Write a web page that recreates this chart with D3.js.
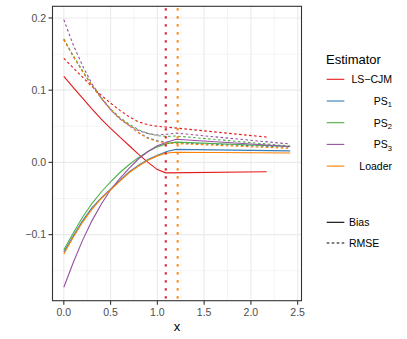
<!DOCTYPE html>
<html>
<head>
<meta charset="utf-8">
<script src="https://cdn.jsdelivr.net/npm/d3@7"></script>
<style>
body { margin: 0; background: #fff; }
text { font-family: "Liberation Sans", Arial, Helvetica, sans-serif; }
</style>
</head>
<body>
<svg width="407" height="339"></svg>
<script>

// grid of x values the estimators were evaluated on
var xs = [0, 0.1, 0.2, 0.3, 0.4, 0.5, 0.6, 0.7, 0.8, 0.9, 1.0, 1.1, 1.2, 2.42];
var xsRed = [0, 0.1, 0.2, 0.3, 0.4, 0.5, 0.6, 0.7, 0.8, 0.9, 1.0, 1.09, 2.17];

var estimators = ["LS-CJM", "PS1", "PS2", "PS3", "Loader"];
var colours = ["#E41A1C", "#377EB8", "#4DAF4A", "#984EA3", "#FF7F00"];

// bias
var bias_lscjm  = [0.119, 0.104, 0.089, 0.074, 0.060, 0.047, 0.035, 0.023, 0.011, 0.000, -0.010, -0.0145, -0.013];
var bias_ps1    = [-0.124, -0.102, -0.081, -0.063, -0.049, -0.037, -0.025, -0.013, -0.004, 0.004, 0.010, 0.015, 0.018, 0.016];
var bias_ps2    = [-0.121, -0.098, -0.076, -0.057, -0.041, -0.027, -0.014, -0.003, 0.007, 0.015, 0.0215, 0.026, 0.028, 0.022];
var bias_ps3    = [-0.173, -0.139, -0.108, -0.081, -0.058, -0.038, -0.022, -0.008, 0.005, 0.015, 0.023, 0.028, 0.032, 0.022];
var bias_loader = [-0.127, -0.104, -0.083, -0.065, -0.050, -0.038, -0.026, -0.014, -0.005, 0.003, 0.009, 0.013, 0.014, 0.013];

// rmse
var rmse_lscjm  = [0.144, 0.131, 0.118, 0.105, 0.093, 0.082, 0.072, 0.063, 0.056, 0.052, 0.050, 0.049, 0.035];
var rmse_ps1    = [0.170, 0.147, 0.126, 0.106, 0.089, 0.073, 0.061, 0.051, 0.041, 0.034, 0.030, 0.028, 0.027, 0.021];
var rmse_ps2    = [0.171, 0.148, 0.127, 0.107, 0.090, 0.074, 0.062, 0.053, 0.045, 0.040, 0.037, 0.036, 0.0365, 0.0226];
var rmse_ps3    = [0.1976, 0.163, 0.134, 0.109, 0.089, 0.073, 0.060, 0.051, 0.044, 0.040, 0.038, 0.039, 0.0405, 0.0254];
var rmse_loader = [0.170, 0.147, 0.126, 0.106, 0.089, 0.073, 0.061, 0.051, 0.041, 0.033, 0.029, 0.027, 0.026, 0.0194];

// vertical reference lines (LS-CJM, Loader)
var vlines = [1.09, 1.217];
var vlineCols = ["#E41A1C", "#FF7F00"];

var xTicks = [0, 0.5, 1, 1.5, 2, 2.5];
var xTickLabels = ["0.0", "0.5", "1.0", "1.5", "2.0", "2.5"];
var yTicks = [-0.1, 0, 0.1, 0.2];
var yTickLabels = ["\u22120.1", "0.0", "0.1", "0.2"];

var svg = d3.select("svg");
var panel = {left: 52.5, right: 301.5, top: 6.3, bottom: 300.7};
var dashed = "2.6,2.4";

// build the series table
var series = [];
var biasList = [bias_lscjm, bias_ps1, bias_ps2, bias_ps3, bias_loader];
var rmseList = [rmse_lscjm, rmse_ps1, rmse_ps2, rmse_ps3, rmse_loader];
estimators.forEach(function (e, i) {
    var xv = i == 0 ? xsRed : xs;
    series.push({est: e, col: colours[i], type: "Bias", pts: xv.map(function (x, j) { return [x, biasList[i][j]]; })});
    series.push({est: e, col: colours[i], type: "RMSE", pts: xv.map(function (x, j) { return [x, rmseList[i][j]]; })});
});

var allX = [], allY = [];
series.forEach(function (s) { s.pts.forEach(function (p) { allX.push(p[0]); allY.push(p[1]); }); });
var xExt = d3.extent(allX), yExt = d3.extent(allY);
var xPad = (xExt[1] - xExt[0]) * 0.05, yPad = (yExt[1] - yExt[0]) * 0.05;

var x = d3.scaleLinear().domain([xExt[0] - xPad, xExt[1] + xPad]).range([panel.left, panel.right]);
var y = d3.scaleLinear().domain([yExt[0] - yPad, yExt[1] + yPad]).range([panel.bottom, panel.top]);

//grid
var g = svg.append("g");
var xMinor = [0.25, 0.75, 1.25, 1.75, 2.25];
var yMinor = [-0.15, -0.05, 0.05, 0.15];
g.selectAll(".xminor").data(xMinor).enter().append("line")
    .attr("x1", x).attr("x2", x).attr("y1", panel.top).attr("y2", panel.bottom)
    .attr("stroke", "#EBEBEB").attr("stroke-width", 0.55);
g.selectAll(".yminor").data(yMinor).enter().append("line")
    .attr("y1", y).attr("y2", y).attr("x1", panel.left).attr("x2", panel.right)
    .attr("stroke", "#EBEBEB").attr("stroke-width", 0.55);
g.selectAll(".xmajor").data(xTicks).enter().append("line")
    .attr("x1", x).attr("x2", x).attr("y1", panel.top).attr("y2", panel.bottom)
    .attr("stroke", "#EBEBEB").attr("stroke-width", 1.1);
g.selectAll(".ymajor").data(yTicks).enter().append("line")
    .attr("y1", y).attr("y2", y).attr("x1", panel.left).attr("x2", panel.right)
    .attr("stroke", "#EBEBEB").attr("stroke-width", 1.1);

//curves
var line = d3.line()
    .x(function (d) { return x(d[0]); })
    .y(function (d) { return y(d[1]); });

svg.append("clipPath").attr("id", "pclip").append("rect")
    .attr("x", panel.left).attr("y", panel.top)
    .attr("width", panel.right - panel.left).attr("height", panel.bottom - panel.top);

var lines = svg.append("g").attr("clip-path", "url(#pclip)");
lines.selectAll("path").data(series).enter().append("path")
    .attr("d", function (d) { return line(d.pts); })
    .attr("fill", "none")
    .attr("stroke", function (d) { return d.col; })
    .attr("stroke-width", 1.1)
    .attr("stroke-dasharray", function (d) { return d.type == "RMSE" ? dashed : null; });

lines.selectAll(".vline").data(vlines).enter().append("line")
    .attr("x1", x).attr("x2", x)
    .attr("y1", panel.top).attr("y2", panel.bottom)
    .attr("stroke", function (d, i) { return vlineCols[i]; })
    .attr("stroke-width", 2.1)
    .attr("stroke-dasharray", "2.1,5.9")
    .attr("stroke-dashoffset", -2);

//panel border
svg.append("rect")
    .attr("x", panel.left).attr("y", panel.top)
    .attr("width", panel.right - panel.left).attr("height", panel.bottom - panel.top)
    .attr("fill", "none").attr("stroke", "#333333").attr("stroke-width", 1.1);

//axes
var ax = svg.append("g");
ax.selectAll(".xt").data(xTicks).enter().append("line")
    .attr("x1", x).attr("x2", x).attr("y1", panel.bottom).attr("y2", panel.bottom + 4)
    .attr("stroke", "#333333").attr("stroke-width", 1.1);
ax.selectAll(".xl").data(xTicks).enter().append("text")
    .attr("x", x).attr("y", panel.bottom + 15.5)
    .attr("text-anchor", "middle").attr("font-size", "10.5px").attr("fill", "#4D4D4D")
    .text(function (d, i) { return xTickLabels[i]; });
ax.selectAll(".yt").data(yTicks).enter().append("line")
    .attr("y1", y).attr("y2", y).attr("x1", panel.left - 4).attr("x2", panel.left)
    .attr("stroke", "#333333").attr("stroke-width", 1.1);
ax.selectAll(".yl").data(yTicks).enter().append("text")
    .attr("x", panel.left - 6.5).attr("y", function (d) { return y(d) + 3.8; })
    .attr("text-anchor", "end").attr("font-size", "10.5px").attr("fill", "#4D4D4D")
    .text(function (d, i) { return yTickLabels[i]; });

svg.append("text")
    .attr("x", (panel.left + panel.right) / 2).attr("y", 331)
    .attr("text-anchor", "middle").attr("font-size", "13px").attr("fill", "#000")
    .text("x");

//legend
var leg = svg.append("g");
leg.append("text").attr("x", 326).attr("y", 64)
    .attr("font-size", "13px").attr("fill", "#000").text("Estimator");

var legLabels = [["LS\u2212CJM", ""], ["PS", "1"], ["PS", "2"], ["PS", "3"], ["Loader", ""]];
legLabels.forEach(function (l, i) {
    var ly = 79.3 + 21.7 * i;
    leg.append("line").attr("x1", 326.7).attr("x2", 344.3).attr("y1", ly).attr("y2", ly)
        .attr("stroke", colours[i]).attr("stroke-width", 1.1);
    var t = leg.append("text").attr("x", 392).attr("y", ly + 3.8)
        .attr("text-anchor", "end").attr("font-size", "10.5px").attr("fill", "#000");
    t.append("tspan").text(l[0]);
    if (l[1]) t.append("tspan").attr("font-size", "7.5px").attr("dy", 2.5).text(l[1]);
});

[["Bias", null], ["RMSE", dashed]].forEach(function (l, i) {
    var ly = 222.3 + 20.7 * i;
    leg.append("line").attr("x1", 326.7).attr("x2", 344.3).attr("y1", ly).attr("y2", ly)
        .attr("stroke", "#000").attr("stroke-width", 1.1)
        .attr("stroke-dasharray", l[1]);
    leg.append("text").attr("x", 349).attr("y", ly + 3.8)
        .attr("font-size", "10.5px").attr("fill", "#000").text(l[0]);
});

</script>
</body>
</html>
